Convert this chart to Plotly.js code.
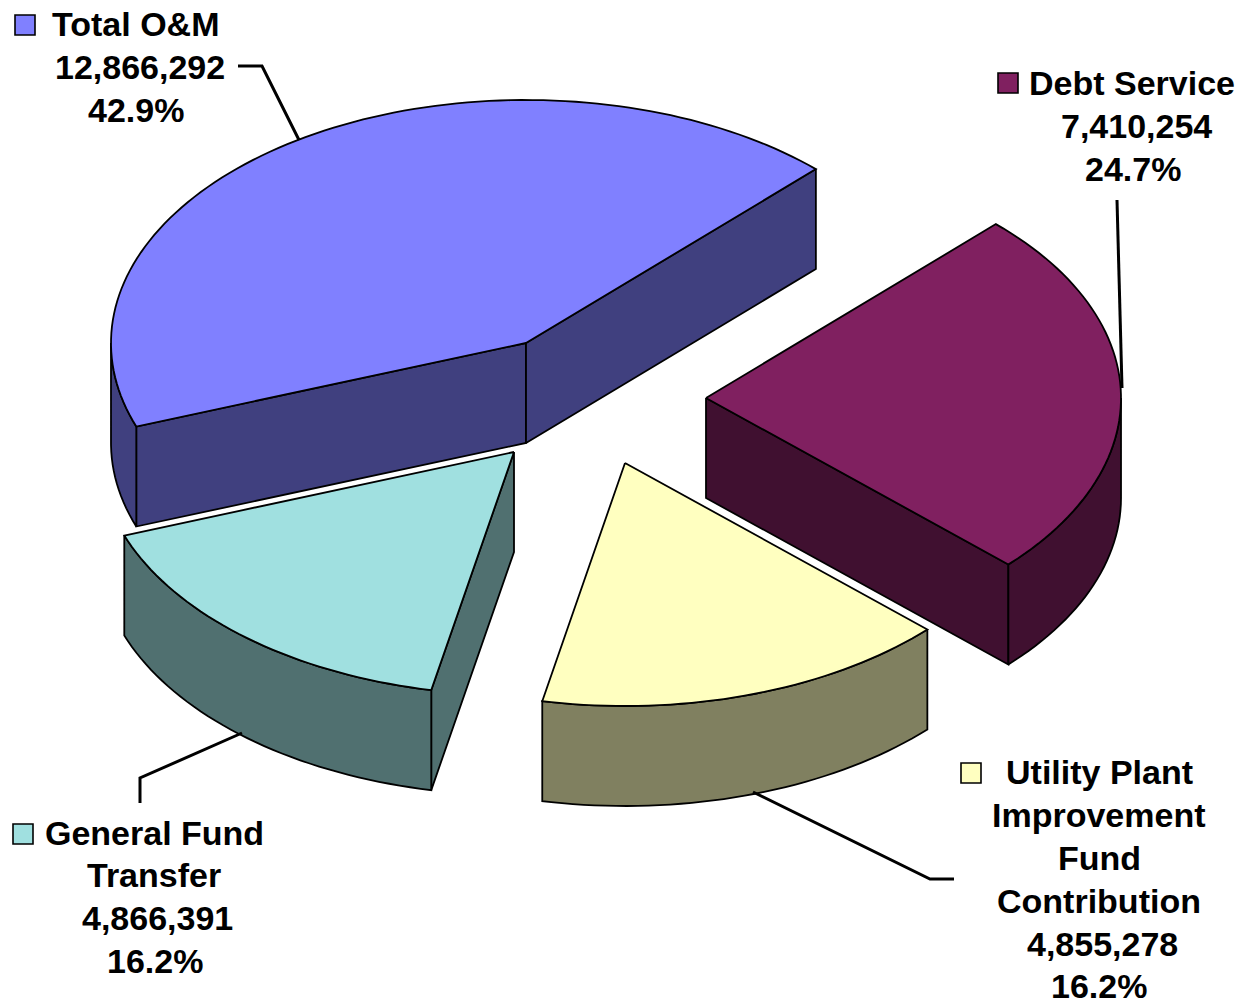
<!DOCTYPE html>
<html>
<head>
<meta charset="utf-8">
<script src="https://cdn.plot.ly/plotly-3.0.1.min.js"></script>
<style>html,body{margin:0;padding:0;background:#fff;overflow:hidden}#chart{width:1238px;height:1001px}</style>
</head>
<body>
<div id="chart"></div>
<script>
// Data
const categories = ["Total O&M", "Debt Service", "Utility Plant Improvement Fund Contribution", "General Fund Transfer"];
const values = [12866292, 7410254, 4855278, 4866391];
const labelLines = [["Total O&M"], ["Debt Service"], ["Utility Plant", "Improvement", "Fund", "Contribution"], ["General Fund", "Transfer"]];

// Styles
const topColors = ["#8080FF", "#802060", "#FFFFC0", "#A0E0E0"];
const sideColors = ["#40407F", "#401030", "#808060", "#507070"];

// Projection of the tilted pie on to the pixel-sized axes
const W = 1238, H = 1001;
const cx = 596, cy = 396, rx = 415, ry = 243, depth = 100;
const firstAngle = 200.1;                 // degrees, counter-clockwise from +x
const pullX = [-70, 110, 29, -82];        // how far each slice is pulled out of the pie
const pullY = [-53, 2, 67, 56];
const drawOrder = [0, 1, 3, 2];

// Label placement
const labelX = [[135, 140, 136], [1132, 1136, 1133], [1099, 1099, 1099, 1099, 1102, 1099], [154, 154, 157, 155]];
const labelY = [[24, 67, 110], [83, 126, 169], [772, 815, 858, 901, 944, 986], [833, 875, 918, 961]];
const keyX = [25, 1008, 971, 23];
const keyY = [25, 83, 773, 834];
const leaders = [
  [[238, 66], [262, 66], [299, 140]],
  [[1117, 200], [1122, 388]],
  [[753, 792], [930, 879], [954, 879]],
  [[242, 733], [140, 778], [140, 803]]
];

const total = values.reduce((a, b) => a + b, 0);
const rad = d => d * Math.PI / 180;
const fmt = v => v.toLocaleString("en-US");
const pct = v => (100 * v / total).toFixed(1) + "%";

const traces = [];
function poly(xs, ys, fill) {
  traces.push({
    type: "scatter", mode: "lines", x: xs.concat(xs[0]), y: ys.concat(ys[0]),
    fill: "toself", fillcolor: fill, line: {color: "#000", width: 1.8, simplify: false},
    hoverinfo: "skip", showlegend: false
  });
}

let angle = firstAngle;
const slices = values.map((v, i) => {
  const start = angle, end = angle - 360 * v / total;
  angle = end;
  return {i, start, end};
});

function project(s, theta, r) {
  return [cx + pullX[s.i] + r * rx * Math.cos(rad(theta)),
          cy + pullY[s.i] - r * ry * Math.sin(rad(theta))];
}

drawOrder.forEach(k => {
  const s = slices[k];
  const apex = project(s, s.start, 0);
  const radial = t => {
    const p = project(s, t, 1);
    poly([apex[0], p[0], p[0], apex[0]], [apex[1], p[1], p[1] + depth, apex[1] + depth], sideColors[k]);
  };
  // hidden cut faces are skipped; visible ones point down the screen
  if (Math.sin(rad(s.start + 90)) < 0) radial(s.start);
  if (Math.sin(rad(s.end - 90)) < 0) radial(s.end);

  // outer wall: the stretches of the rim on the front half of the ellipse
  const ranges = [[180, 360], [-180, 0]];
  ranges.forEach(([a, b]) => {
    const hi = Math.min(s.start, b), lo = Math.max(s.end, a);
    if (hi <= lo) return;
    const xs = [], ys = [];
    for (let t = hi; t > lo; t -= 1.5) { const p = project(s, t, 1); xs.push(p[0]); ys.push(p[1]); }
    const pe = project(s, lo, 1); xs.push(pe[0]); ys.push(pe[1]);
    const n = xs.length;
    for (let j = n - 1; j >= 0; j--) { xs.push(xs[j]); ys.push(ys[j] + depth); }
    poly(xs, ys, sideColors[k]);
  });

  // top face
  const xs = [apex[0]], ys = [apex[1]];
  for (let t = s.start; t > s.end; t -= 1.5) { const p = project(s, t, 1); xs.push(p[0]); ys.push(p[1]); }
  const pe = project(s, s.end, 1); xs.push(pe[0]); ys.push(pe[1]);
  poly(xs, ys, topColors[k]);
});

// Legend keys
traces.push({
  type: "scatter", mode: "markers", x: keyX, y: keyY, text: categories,
  marker: {symbol: "square", size: 20, color: topColors, line: {color: "#000", width: 1.6}},
  hoverinfo: "text", showlegend: false
});

// Labels, one annotation per line
const annotations = [];
values.forEach((v, i) => {
  const lines = labelLines[i].concat([fmt(v), pct(v)]);
  lines.forEach((txt, j) => annotations.push({
    text: txt, x: labelX[i][j], y: labelY[i][j], xref: "x", yref: "y",
    xanchor: "center", yanchor: "middle", showarrow: false,
    font: {family: "Liberation Sans, Arial, sans-serif", size: 34, color: "#000", weight: 700}
  }));
});

const shapes = leaders.map(pts => ({
  type: "path", layer: "above", xref: "x", yref: "y",
  path: pts.map((p, j) => (j ? "L" : "M") + p[0] + "," + p[1]).join(" "),
  line: {color: "#000", width: 3}
}));

Plotly.newPlot("chart", traces, {
  width: W, height: H, margin: {l: 0, r: 0, t: 0, b: 0},
  paper_bgcolor: "#fff", plot_bgcolor: "#fff", showlegend: false,
  xaxis: {range: [0, W], visible: false, fixedrange: true},
  yaxis: {range: [H, 0], visible: false, fixedrange: true},
  annotations, shapes
}, {displayModeBar: false, staticPlot: true});
</script>
</body>
</html>
